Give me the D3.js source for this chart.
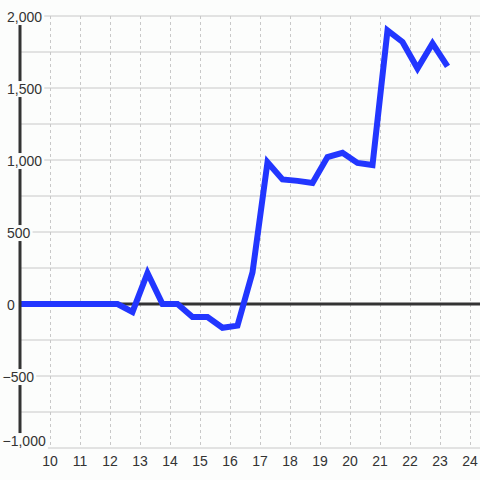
<!DOCTYPE html>
<html>
<head>
<meta charset="utf-8">
<script src="https://cdn.jsdelivr.net/npm/d3@7"></script>
<style>
  body { margin: 0; background: #fcfdfc; }
  text { font-family: "Liberation Sans", Arial, sans-serif; font-size: 14px; fill: #333; }
</style>
</head>
<body>
<div id="chart"></div>
<script>
var width = 480,
  height = 480;

var xValues = [8.75, 9.25, 9.75, 10.25, 10.75, 11.25, 11.75, 12.25, 12.75, 13.25,
  13.75, 14.25, 14.75, 15.25, 15.75, 16.25, 16.75, 17.25, 17.75, 18.25,
  18.75, 19.25, 19.75, 20.25, 20.75, 21.25, 21.75, 22.25, 22.75, 23.25];
var yValues = [0, 0, 0, 0, 0, 0, 0, 0, -55, 215,
  0, 0, -90, -90, -165, -150, 220, 985, 865, 855,
  840, 1020, 1050, 980, 965, 1900, 1820, 1635, 1810, 1650];
var xTicks = [10, 11, 12, 13, 14, 15, 16, 17, 18, 19, 20, 21, 22, 23, 24];
var yTicks = [2000, 1500, 1000, 500, 0, -500, -1000];
var yGrid = d3.range(-1000, 2001, 250);

var svg = d3.select( "#chart" )
  .append( "svg" )
  .attr( "width", width )
  .attr( "height", height );

var x = d3.scaleLinear().domain( [9, 24 + 1/3] ).range( [20, 480] );
var y = d3.scaleLinear().domain( [-1000, 2000] ).range( [448, 16] );

// grid
svg.append( "g" ).selectAll( "line" )
  .data( yGrid )
  .enter()
  .append( "line" )
  .attr( "x1", 20 ).attr( "x2", width )
  .attr( "y1", function(d){ return y(d); } )
  .attr( "y2", function(d){ return y(d); } )
  .attr( "stroke", "#c8c8c8" )
  .attr( "stroke-width", 1 );

svg.append( "g" ).selectAll( "line" )
  .data( xTicks )
  .enter()
  .append( "line" )
  .attr( "x1", function(d){ return Math.round(x(d)) + 0.5; } )
  .attr( "x2", function(d){ return Math.round(x(d)) + 0.5; } )
  .attr( "y1", y(2000) ).attr( "y2", y(-1000) )
  .attr( "stroke", "#c8c8c8" )
  .attr( "stroke-width", 1 )
  .attr( "stroke-dasharray", "3,3" );

// zero line
svg.append( "line" )
  .attr( "x1", 20 ).attr( "x2", width )
  .attr( "y1", y(0) ).attr( "y2", y(0) )
  .attr( "stroke", "#333" )
  .attr( "stroke-width", 3 );

// data line
svg.append( "clipPath" ).attr( "id", "clip" )
  .append( "rect" ).attr( "x", 20 ).attr( "y", 0 ).attr( "width", width - 20 ).attr( "height", height );

var line = d3.line()
  .x( function(d, i){ return x(xValues[i]); } )
  .y( function(d){ return y(d); } );

svg.append( "path" )
  .datum( yValues )
  .attr( "clip-path", "url(#clip)" )
  .attr( "fill", "none" )
  .attr( "stroke", "#2236ff" )
  .attr( "stroke-width", 6 )
  .attr( "d", line );

// left axis line
svg.append( "line" )
  .attr( "x1", 20 ).attr( "x2", 20 )
  .attr( "y1", y(2000) ).attr( "y2", y(-1000) )
  .attr( "stroke", "#333" )
  .attr( "stroke-width", 3 );

// y labels with background (bottom one pushed up to stay inside)
var fmt = d3.format( "," );
var yLab = svg.append( "g" ).selectAll( "g" )
  .data( yTicks )
  .enter()
  .append( "g" );

yLab.append( "text" )
  .attr( "x", function(d){ return d < 0 ? 2.5 : 7; } )
  .attr( "y", function(d){ return Math.min( y(d) + 1, 441 ); } )
  .attr( "dy", "0.36em" )
  .text( function(d){ return fmt(d); } );

yLab.each( function(){
  var g = d3.select( this );
  var b = g.select( "text" ).node().getBBox();
  g.insert( "rect", "text" )
    .attr( "x", 0 )
    .attr( "y", b.y + b.height / 2 - 8 )
    .attr( "width", b.x + b.width + 2 )
    .attr( "height", 16 )
    .attr( "fill", "#fcfdfc" );
});

// x labels
svg.append( "g" ).selectAll( "text" )
  .data( xTicks )
  .enter()
  .append( "text" )
  .attr( "x", function(d){ return x(d); } )
  .attr( "y", 466 )
  .attr( "text-anchor", "middle" )
  .text( function(d){ return d; } );
</script>
</body>
</html>
